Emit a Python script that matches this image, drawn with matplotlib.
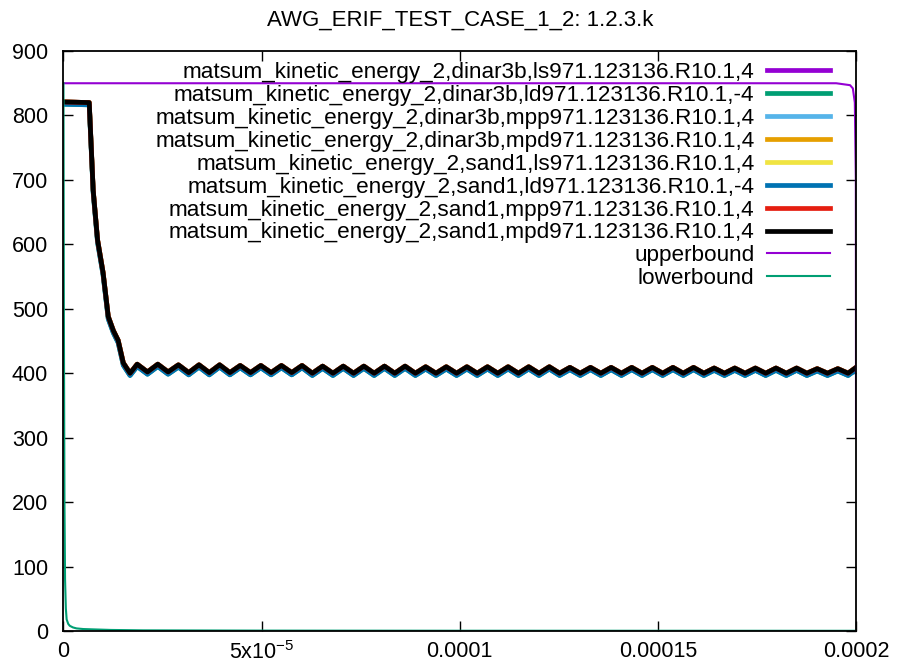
import matplotlib
matplotlib.use('Agg')
import matplotlib.pyplot as plt
import numpy as np

plt.rcParams['font.family'] = ['Liberation Sans', 'DejaVu Sans']
plt.rcParams['mathtext.default'] = 'regular'

title = "AWG_ERIF_TEST_CASE_1_2: 1.2.3.k"

# kinetic energy (time in seconds)
drop_t = [0.0, 6.5e-6, 7.5e-6, 8.6e-6, 1.0e-5, 1.13e-5, 1.26e-5, 1.38e-5, 1.51e-5, 1.68e-5]
drop_v = [821, 820, 684, 607, 556, 488, 466, 451, 416, 400]

peak_t = [18.6, 23.8, 29.0, 34.2, 39.4, 44.6, 49.8, 55.0, 60.2, 65.4, 70.6, 75.8,
          81.0, 86.2, 91.4, 96.6, 101.8, 107.0, 112.2, 117.4, 122.6, 127.8, 133.0,
          138.2, 143.4, 148.6, 153.8, 159.0, 164.2, 169.4, 174.6, 179.8, 185.0,
          190.2, 195.4]
peak_v = [414, 414, 413, 413, 413, 412, 412, 412, 412, 411, 411, 411, 411, 411,
          410, 410, 410, 410, 410, 410, 410, 409, 409, 409, 409, 409, 409, 409,
          408, 408, 408, 408, 408, 407, 407]
trough_t = [21.2, 26.4, 31.6, 36.8, 42.0, 47.2, 52.4, 57.6, 62.8, 68.0, 73.2, 78.4,
            83.6, 88.8, 94.0, 99.2, 104.4, 109.6, 114.8, 120.0, 125.2, 130.4, 135.6,
            140.8, 146.0, 151.2, 156.4, 161.6, 166.8, 172.0, 177.2, 182.4, 187.6,
            192.8, 198.0]
trough_v = [402, 402, 401, 401, 401, 401, 401, 401, 400, 400, 400, 400, 400, 400,
            400, 400, 400, 400, 400, 400, 400, 400, 400, 400, 400, 400, 400, 400,
            400, 400, 400, 400, 400, 400, 400]
end_t = [200.0]
end_v = [409]

# the two "ld" runs sit slightly below the others
ld_shift = -3.5

upper_t = [0.0, 1.95e-4, 1.985e-4, 1.992e-4, 1.997e-4, 1.9995e-4, 2.0e-4]
upper_v = [850, 850, 847, 842, 820, 700, 300]

lower_t = [0.0, 1e-7, 2.5e-7, 4e-7, 6e-7, 8e-7, 1.2e-6, 1.6e-6, 2.4e-6, 3.3e-6,
           5e-6, 7.4e-6, 1.2e-5, 2e-5, 5e-5, 1e-4, 2e-4]
lower_v = [850, 500, 200, 80, 35, 18, 11, 8, 5.5, 4, 3, 2.5, 1.6, 1.0, 0.6, 0.4, 0.3]

series = [
    ("matsum_kinetic_energy_2,dinar3b,ls971.123136.R10.1,4", '#9400d3', False),
    ("matsum_kinetic_energy_2,dinar3b,ld971.123136.R10.1,-4", '#009e73', True),
    ("matsum_kinetic_energy_2,dinar3b,mpp971.123136.R10.1,4", '#56b4e9', False),
    ("matsum_kinetic_energy_2,dinar3b,mpd971.123136.R10.1,4", '#e69f00', False),
    ("matsum_kinetic_energy_2,sand1,ls971.123136.R10.1,4", '#f0e442', False),
    ("matsum_kinetic_energy_2,sand1,ld971.123136.R10.1,-4", '#0072b2', True),
    ("matsum_kinetic_energy_2,sand1,mpp971.123136.R10.1,4", '#e51e10', False),
    ("matsum_kinetic_energy_2,sand1,mpd971.123136.R10.1,4", '#000000', False),
]

x_ticks = [0, 5e-5, 1e-4, 1.5e-4, 2e-4]
x_ticklabels = ['0', r'5x10$^{-5}$', '0.0001', '0.00015', '0.0002']
y_ticks = [0, 100, 200, 300, 400, 500, 600, 700, 800, 900]


def build_curve():
    osc_t = np.array(peak_t + trough_t + end_t) * 1e-6
    osc_v = np.array(peak_v + trough_v + end_v, dtype=float)
    order = np.argsort(osc_t)
    t = np.concatenate([drop_t, osc_t[order]])
    v = np.concatenate([drop_v, osc_v[order]])
    return t, v


def plot_energy(filename='out.png'):
    t, v = build_curve()

    fig = plt.figure(figsize=(8.99, 6.67), dpi=100)
    ax = fig.add_axes([0.0706, 0.054, 0.8816, 0.8695])

    for label, color, shifted in series:
        vals = v + ld_shift if shifted else v
        ax.plot(t, vals, color=color, lw=3.4, label=label, solid_joinstyle='round')
    ax.plot(upper_t, upper_v, color='#9400d3', lw=1.5, label='upperbound')
    ax.plot(lower_t, lower_v, color='#009e73', lw=1.5, label='lowerbound')

    ax.set_xlim(0, 2e-4)
    ax.set_ylim(0, 900)
    ax.set_xticks(x_ticks)
    ax.set_xticklabels(x_ticklabels)
    ax.set_yticks(y_ticks)
    ax.tick_params(direction='in', length=7, width=1.0, top=True, right=True,
                   labelsize=15.5, colors='black')
    ax.tick_params(axis='x', pad=7)
    ax.tick_params(axis='y', pad=11)
    for s in ax.spines.values():
        s.set_linewidth(1.3)

    ax.set_title(title, fontsize=16, pad=18.5)

    leg = ax.legend(loc='upper right', bbox_to_anchor=(0.967, 0.981),
                    frameon=False, markerfirst=False, fontsize=16.2,
                    handlelength=2.8, handletextpad=0.55, labelspacing=0.085,
                    borderpad=0, borderaxespad=0)

    plt.savefig(filename, dpi=100)
    plt.close(fig)


plot_energy()
